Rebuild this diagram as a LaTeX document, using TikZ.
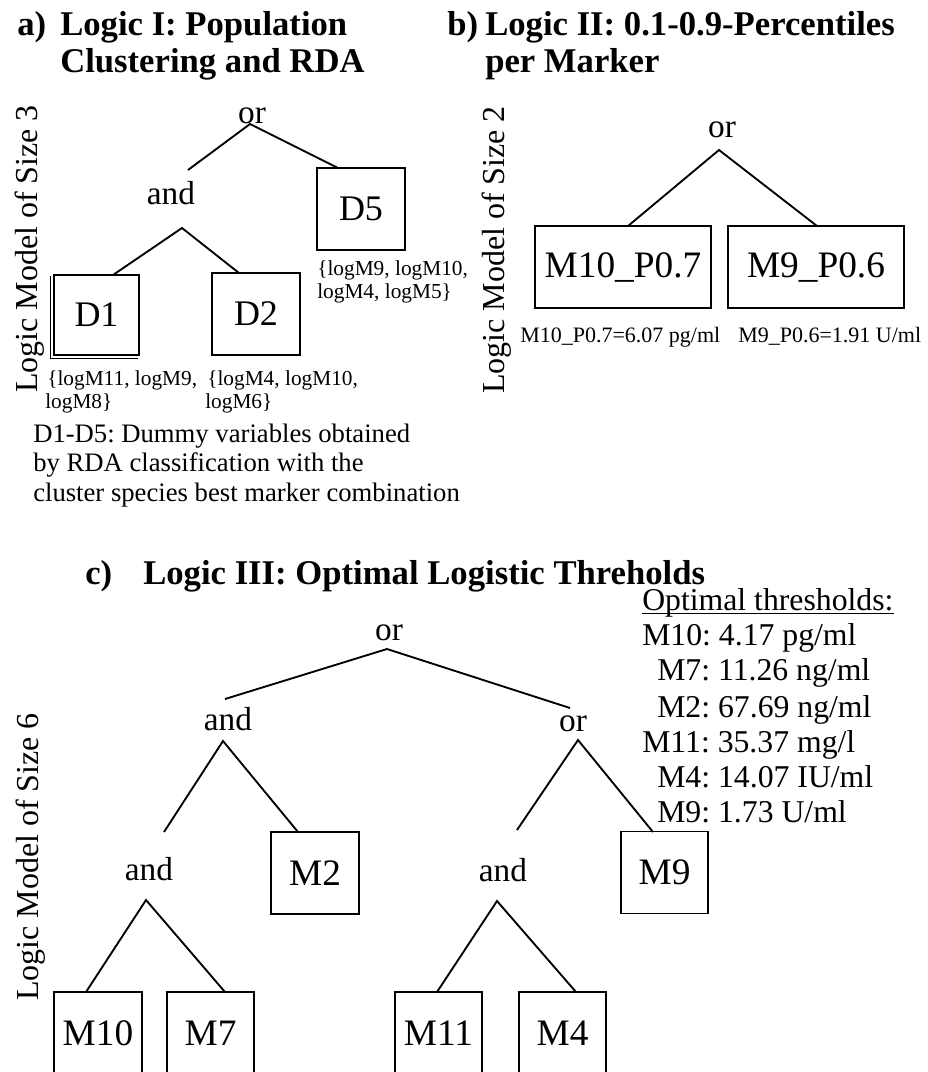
\documentclass[tikz,border=0pt]{standalone}
\usepackage{fontspec}
\setmainfont{Liberation Serif}
\usetikzlibrary{calc}
\frenchspacing
\begin{document}
\frenchspacing
\begin{tikzpicture}[x=0.75pt,y=-0.75pt,
  edge/.style={line width=1.4pt},
  titletext/.style={font=\fontsize{26}{28}\selectfont\bfseries, anchor=base west, inner sep=0pt},
  gate/.style={font=\fontsize{25}{27}\selectfont, anchor=base, inner sep=0pt},
  vlab/.style={font=\fontsize{24}{26}\selectfont, rotate=90, anchor=base, inner sep=0pt},
  annot/.style={font=\fontsize{16}{18}\selectfont, anchor=base west, inner sep=0pt},
  note/.style={font=\fontsize{20}{22}\selectfont, anchor=base west, inner sep=0pt},
  thr/.style={font=\fontsize{23.8}{26}\selectfont, anchor=base west, inner sep=0pt},
  dbox/.style={draw, line width=1.4pt, inner sep=0pt, minimum width=66pt, minimum height=61.5pt, font=\fontsize{27}{29}\selectfont},
  mbox/.style={draw, line width=1.4pt, inner sep=0pt, minimum width=66pt, minimum height=61.5pt, font=\fontsize{28}{30}\selectfont}
]
\useasboundingbox (0,0) rectangle (928,1072);

% ---------- Panel a ----------
\node[titletext] (ta1) at (17,35) {a)};
\node[titletext] (ta2) at (60,35) {Logic I: Population};
\node[titletext] (ta3) at (60,72) {Clustering and RDA};
\node[vlab] (va) at (37,249) {Logic Model of Size 3};

\node[gate] (orA) at (252,123) {or};
\node[gate] (andA) at (171,204) {and};
\node[dbox] (D5) at (361,209) {D5};
\node[dbox, minimum width=63.75pt, minimum height=60pt] (D1) at (96.5,315) {D1};
\node[dbox] (D2) at (256,314) {D2};
\draw[line width=1pt] ($(D1.north west)+(-2.5,2)$) -- ($(D1.south west)+(-2.5,2.5)$) -- ($(D1.south east)+(-2,2.5)$);

\coordinate (aA) at (250,124);
\coordinate (aA1) at (188,170);
\coordinate (aA2) at (338,168);
\coordinate (aB) at (182,228);
\coordinate (aB1) at (113,275);
\coordinate (aB2) at (239,273);
\draw[edge] (aA1) -- (aA) -- (aA2);
\draw[edge] (aB1) -- (aB) -- (aB2);

\node[annot] (n5a) at (317,275) {\{logM9, logM10,};
\node[annot] (n5b) at (317,298) {logM4, logM5\}};
\node[annot] (n1a) at (47,385) {\{logM11, logM9,};
\node[annot] (n1b) at (45,408) {logM8\}};
\node[annot] (n2a) at (207,385) {\{logM4, logM10,};
\node[annot] (n2b) at (205,408) {logM6\}};

\node[note] (fa) at (33,442) {D1-D5: Dummy variables obtained};
\node[note] (fb) at (33,471.5) {by RDA classification with the};
\node[note] (fc) at (33,501) {cluster species best marker combination};

% ---------- Panel b ----------
\node[titletext] (tb1) at (447,35) {b)};
\node[titletext] (tb2) at (485,35) {Logic II: 0.1-0.9-Percentiles};
\node[titletext] (tb3) at (485,72) {per Marker};
\node[vlab] (vb) at (504,250) {Logic Model of Size 2};

\node[gate] (orB) at (722,137) {or};
\node[mbox, minimum width=132pt] (P7) at (623,267) {M10\_P0.7};
\node[mbox, minimum width=132pt] (P6) at (816,267) {M9\_P0.6};
\coordinate (bA) at (719,150);
\coordinate (bA1) at (628,226);
\coordinate (bA2) at (817,226);
\draw[edge] (bA1) -- (bA) -- (bA2);

\node[annot, font=\fontsize{16.5}{18}\selectfont] (pb1) at (520,342) {M10\_P0.7=6.07 pg/ml};
\node[annot, font=\fontsize{16.5}{18}\selectfont] (pb2) at (738,342) {M9\_P0.6=1.91 U/ml};

% ---------- Panel c ----------
\node[titletext] (tc1) at (85,584) {c)};
\node[titletext] (tc2) at (143,584) {Logic III: Optimal Logistic Threholds};
\node[vlab] (vc) at (38,857) {Logic Model of Size 6};

\node[gate] (orC) at (389,640) {or};
\node[gate] (andC1) at (228,730) {and};
\node[gate] (orC2) at (573,731) {or};
\node[gate] (andC3) at (149,880) {and};
\node[gate] (andC4) at (503,881) {and};

\node[mbox] (M2) at (315,873) {M2};
\node[mbox, minimum width=65.25pt] (M9) at (664.5,872.5) {M9};
\node[mbox] (M10) at (98,1033) {M10};
\node[mbox, minimum width=65.25pt] (M7) at (210.5,1033) {M7};
\node[mbox, minimum width=65.25pt] (M11) at (438.5,1033) {M11};
\node[mbox, minimum width=65.25pt] (M4) at (562.5,1033) {M4};

\coordinate (cA) at (387,649);
\coordinate (cA1) at (225,699);
\coordinate (cA2) at (570,708);
\coordinate (cB) at (223,741);
\coordinate (cB1) at (164,832);
\coordinate (cB2) at (298,832);
\coordinate (cC) at (578,740);
\coordinate (cC1) at (517,830);
\coordinate (cC2) at (653,832);
\coordinate (cD) at (146,900);
\coordinate (cD1) at (86,992);
\coordinate (cD2) at (225,992);
\coordinate (cE) at (497,901);
\coordinate (cE1) at (437,992);
\coordinate (cE2) at (576,992);
\draw[edge] (cA1) -- (cA) -- (cA2);
\draw[edge] (cB1) -- (cB) -- (cB2);
\draw[edge] (cC1) -- (cC) -- (cC2);
\draw[edge] (cD1) -- (cD) -- (cD2);
\draw[edge] (cE1) -- (cE) -- (cE2);

\node[thr] (opt) at (642,610) {Optimal thresholds:};
\draw[line width=0.9pt] ($(opt.base west)+(0,3.5)$) -- ($(opt.base east)+(0,3.5)$);
\node[thr] (t1) at (642,645) {M10: 4.17 pg/ml};
\node[thr] (t2) at (657,680) {M7: 11.26 ng/ml};
\node[thr] (t3) at (657,717) {M2: 67.69 ng/ml};
\node[thr] (t4) at (642,752) {M11: 35.37 mg/l};
\node[thr] (t5) at (657,787) {M4: 14.07 IU/ml};
\node[thr] (t6) at (657,822) {M9: 1.73 U/ml};
\end{tikzpicture}
\end{document}
